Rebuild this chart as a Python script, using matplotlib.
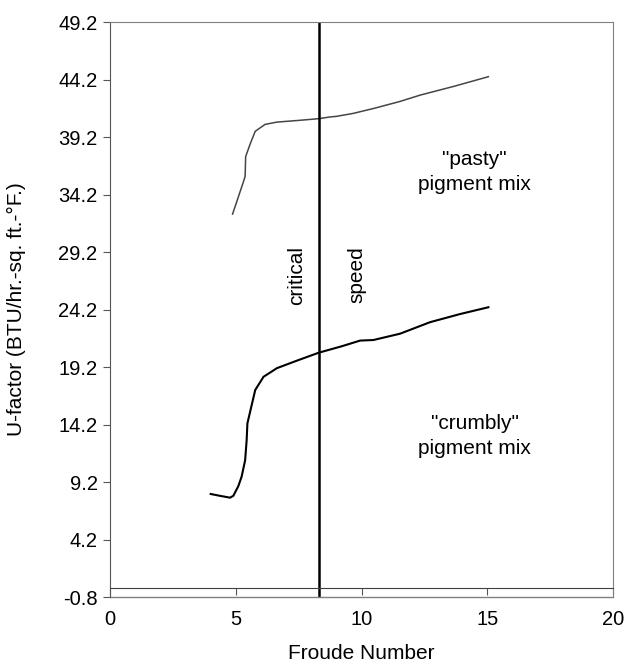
import matplotlib
matplotlib.use('Agg')
from matplotlib import pyplot as plt

plt.rcParams['font.family'] = ['Liberation Sans', 'DejaVu Sans']

# "pasty" pigment mix curve
pastyFroude = [4.87, 5.3, 5.37, 5.39, 5.57, 5.77, 6.16, 6.63, 7.5, 8.3, 8.75, 9.0, 9.67,
               10.5, 11.53, 12.33, 13.65, 15.04]
pastyU = [32.5, 35.3, 35.8, 37.5, 38.6, 39.7, 40.3, 40.5, 40.65, 40.8, 40.95, 41.0, 41.26,
          41.7, 42.3, 42.85, 43.6, 44.45]

# "crumbly" pigment mix curve
crumblyFroude = [4.0, 4.37, 4.77, 4.9, 5.1, 5.23, 5.37, 5.43, 5.46, 5.77, 6.1, 6.63, 7.42,
                 8.3, 9.2, 9.94, 10.47, 11.53, 12.72, 13.9, 15.04]
crumblyU = [8.16, 8.0, 7.84, 8.0, 8.85, 9.67, 11.1, 12.85, 14.3, 17.2, 18.35, 19.1, 19.75,
            20.45, 21.0, 21.5, 21.55, 22.1, 23.1, 23.8, 24.4]

criticalFroude = 8.3
xTicks = [0, 5, 10, 15, 20]
yTicks = [-0.8, 4.2, 9.2, 14.2, 19.2, 24.2, 29.2, 34.2, 39.2, 44.2, 49.2]

fig = plt.figure(figsize=(6.4, 6.69), dpi=100)
ax = fig.add_axes([0.172, 0.1076, 0.786, 0.8594])

ax.plot(pastyFroude, pastyU, color='#454545', lw=1.1)
ax.plot(crumblyFroude, crumblyU, color='black', lw=1.5)
ax.axvline(criticalFroude, color='black', lw=1.8)
ax.axhline(-0.8, color='#808080', lw=1.0, clip_on=False)

ax.set_xlim(0, 20)
ax.set_ylim(-0.8, 49.2)
ax.set_xticks(xTicks)
ax.set_xticklabels([str(t) for t in xTicks])
ax.set_yticks(yTicks)
ax.set_yticklabels(['%.1f' % t for t in yTicks])

# category axis crosses at zero, plot area frame stays at the bottom
ax.spines['bottom'].set_position(('data', 0))
ax.spines['bottom'].set_color('#404040')
for side in ['top', 'right']:
    ax.spines[side].set_color('#808080')
ax.spines['left'].set_color('#555555')
ax.tick_params(axis='x', direction='out', length=5, pad=11, labelsize=14.5, color='#555555')
ax.tick_params(axis='y', direction='out', length=5, pad=4, labelsize=14.5, color='#555555')

ax.set_xlabel('Froude Number', fontsize=15)
ax.set_ylabel('U-factor (BTU/hr.-sq. ft.-\u00b0F.)', fontsize=15)
ax.xaxis.set_label_coords(0.5, -0.082)
ax.yaxis.set_label_coords(-0.168, 0.5)

ax.text(7.43, 27.2, 'critical', rotation=90, fontsize=15, ha='center', va='center')
ax.text(9.82, 27.2, 'speed', rotation=90, fontsize=15, ha='center', va='center')
ax.text(14.47, 36.2, '"pasty"\npigment mix', fontsize=15, ha='center', va='center',
        linespacing=1.4)
ax.text(14.5, 13.2, '"crumbly"\npigment mix', fontsize=15, ha='center', va='center',
        linespacing=1.4)

plt.savefig('out.png', dpi=100)
